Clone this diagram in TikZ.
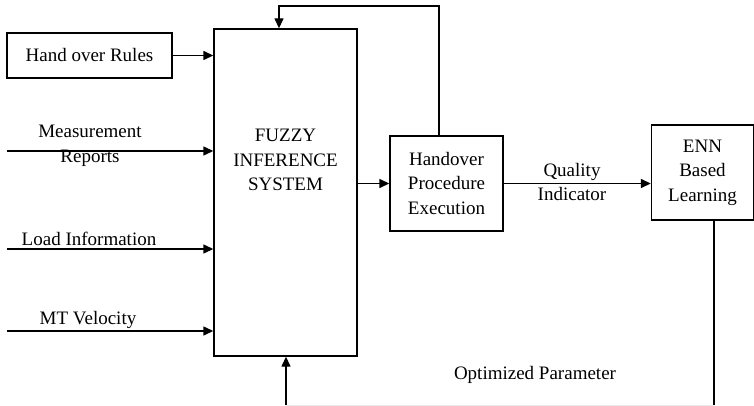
\documentclass[tikz,border=0pt]{standalone}
\usepackage{fontspec}
\setmainfont{Liberation Serif}
\usetikzlibrary{arrows.meta,positioning,calc}

\begin{document}
\begin{tikzpicture} [x=1pt,y=-1pt,{block/.style={rectangle,draw=black,line width=1.4pt,inner sep=0pt}},{txt/.style={align=center,inner sep=0pt,font=\fontsize{19}{24.5}\selectfont}},{arr/.style={line width=1.4pt,-{Triangle[length=10pt,width=9pt]}}},{linest/.style={line width=1.4pt}}]
		\useasboundingbox (0,0) rectangle (754,406);
		%%blocks
		\node at (89.5,55.5) [block,minimum width=165pt,minimum height=45pt,txt] (rules) {Hand over Rules};
		\node at (285.5,192.5) [block,minimum width=143pt,minimum height=327pt] (fis) {};
		\node at (285.5,160) [txt] (fistext) {FUZZY\\INFERENCE\\SYSTEM};
		\node at (446.5,183.5) [block,minimum width=113pt,minimum height=95pt,txt] (hpe) {Handover\\Procedure\\Execution};
		\node at (702.5,172.5) [block,minimum width=102pt,minimum height=95pt,txt] (enn) {ENN\\Based\\Learning};
		
		%%inputs
		\coordinate (meas) at (7,151);
		\coordinate (load) at (7,249);
		\coordinate (velo) at (7,331);
		\node at (90,146) [txt] (meastext) {Measurement\\Reports};
		\node at (89,239) [txt] (loadtext) {Load Information};
		\node at (88,320) [txt] (velotext) {MT Velocity};
		\draw [arr] (rules.east) -- (rules.east -| fis.west);
		\draw [arr] (meas) -- (meas -| fis.west);
		\draw [arr] (load) -- (load -| fis.west);
		\draw [arr] (velo) -- (velo -| fis.west);
		
		%%forward path
		\draw [arr] (fis.east |- hpe.west) -- (hpe.west);
		\draw [arr] (hpe.east) -- (hpe.east -| enn.west);
		\node at (572,182) [txt] (qualtext) {Quality\\Indicator};
		
		%%feedback loops
		\coordinate (top) at (439,6);
		\coordinate (fbk) at (279,6);
		\draw [arr] (top |- hpe.north) -- (top) -- (fbk) -- (fbk |- fis.north);
		\coordinate (opt) at (714,405);
		\coordinate (optin) at (286,405);
		\draw [linest] (enn.south -| opt) -- (opt);
		\draw [gray!15,line width=1pt] (opt) -- (optin);
		\draw [arr] (optin) -- (optin |- fis.south);
		\node at (535,375) [txt] (opttext) {Optimized Parameter};
		
	\end{tikzpicture}
\end{document}
